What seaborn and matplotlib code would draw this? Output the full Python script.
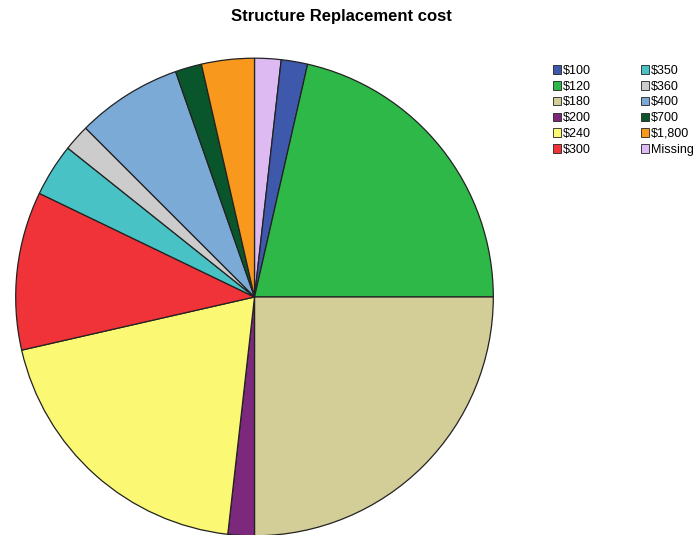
import matplotlib
matplotlib.use("Agg")
import matplotlib.pyplot as plt
import matplotlib.patches as mpatches
import seaborn as sns

# counts (56 cases in total)
labels = ["$100", "$120", "$180", "$200", "$240", "$300",
          "$350", "$360", "$400", "$700", "$1,800", "Missing"]
counts = [1, 12, 14, 1, 11, 6, 2, 1, 4, 1, 2, 1]
colors = ["#3E58AC", "#2EB848", "#D3CE97", "#7C287D", "#FBF873", "#EF3338",
          "#48C2C5", "#CCCCCC", "#7AAAD5", "#0A562C", "#F8981D", "#DDBAF1"]

sns.set_theme(style="white")
plt.rcParams["font.family"] = ["Liberation Sans", "DejaVu Sans"]
plt.rcParams["text.color"] = "black"
pal = sns.color_palette(colors)

fig = plt.figure(figsize=(6.93, 5.35), dpi=100)
ax = fig.add_axes([14.5 / 693, -2 / 535, 480 / 693, 480 / 535])

# the pie starts at 12 o'clock with "Missing", then runs clockwise
order = [11] + list(range(11))
ax.pie(
    [counts[i] for i in order],
    colors=[pal[i] for i in order],
    startangle=90,
    counterclock=False,
    radius=1,
    wedgeprops={"edgecolor": "#222222", "linewidth": 0.9},
)
ax.set_xlim(-1.005, 1.005)
ax.set_ylim(-1.005, 1.005)
ax.set_aspect("equal")
ax.axis("off")

fig.text(341.5 / 693, 1 - 16 / 535, "Structure Replacement cost",
         ha="center", va="center", fontsize=12, fontweight="bold", color="black")

handles = [mpatches.Patch(facecolor=pal[i], edgecolor="#222222", linewidth=0.6,
                          label=labels[i]) for i in range(len(labels))]
fig.legend(
    handles=handles,
    ncol=2,
    loc="upper left",
    bbox_to_anchor=(553 / 693, 1 - 65 / 535),
    frameon=False,
    fontsize=9,
    labelcolor="black",
    handlelength=0.65,
    handleheight=0.65,
    handletextpad=0.15,
    labelspacing=0.3,
    columnspacing=4.0,
    borderpad=0,
    borderaxespad=0,
)

fig.savefig("out.png", dpi=100)
